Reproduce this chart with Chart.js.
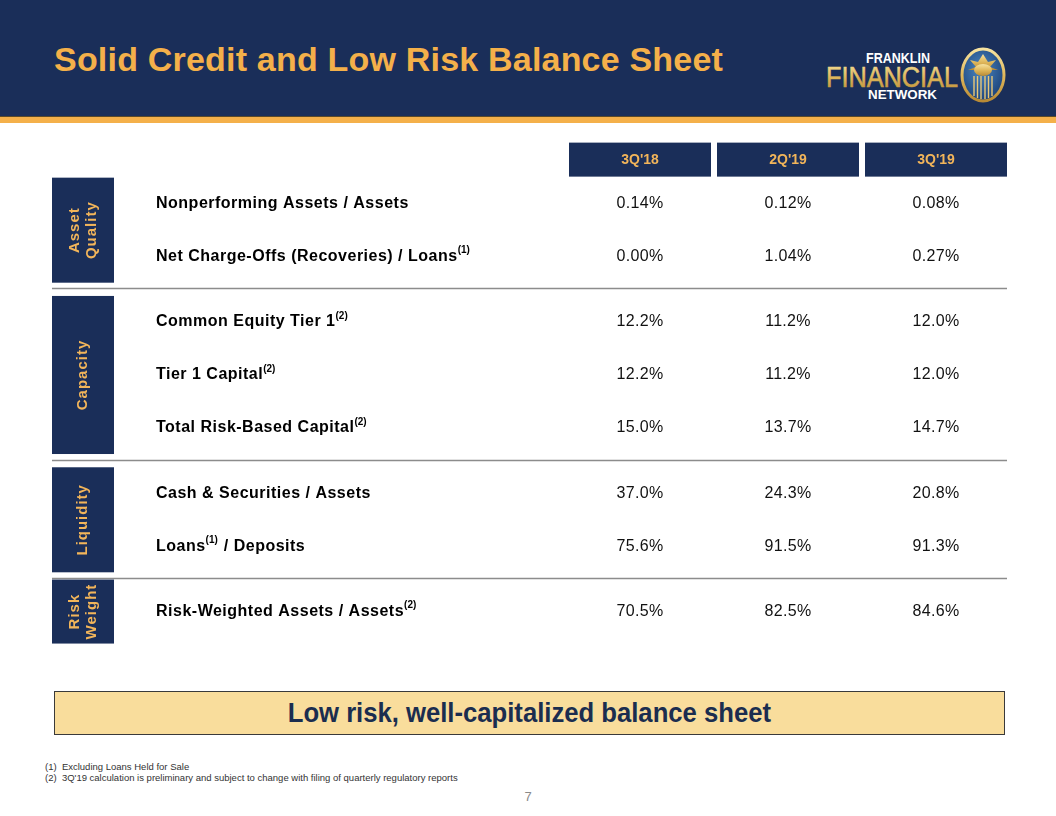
<!DOCTYPE html>
<html><head><meta charset="utf-8">
<script src="https://cdn.jsdelivr.net/npm/chart.js@4.4.1/dist/chart.umd.min.js"></script>
<style>
html,body{margin:0;padding:0;background:#fff;}
body{width:1056px;height:816px;position:relative;overflow:hidden;font-family:"Liberation Sans",Arial,sans-serif;}
#hdr{position:absolute;left:0;top:0;width:1056px;height:116px;background:#1a2e59;}
#stripe{position:absolute;left:0;top:116px;width:1056px;height:1px;background:#5a4a2a;}
#stripe2{position:absolute;left:0;top:117px;width:1056px;height:6px;background:#f4b04a;}
#title{position:absolute;left:54px;top:42px;font-size:34px;line-height:34px;font-weight:bold;letter-spacing:0.2px;color:#f4b04a;white-space:nowrap;}
#logo{position:absolute;left:820px;top:40px;}
#c{position:absolute;left:0;top:130px;}
#box{position:absolute;left:54px;top:691px;width:949px;height:42px;background:#f9dd9c;border:1px solid #3a3a3a;display:flex;align-items:center;justify-content:center;}
#box span{display:inline-block;font-size:27px;font-weight:bold;color:#1b2d4f;transform:scaleX(0.95);white-space:nowrap;}
#fn{position:absolute;left:45px;top:761px;font-size:9.5px;line-height:11px;color:#333;white-space:nowrap;}
#pg{position:absolute;left:521px;top:789px;width:14px;text-align:center;font-size:13px;color:#8a8a8a;}
</style></head>
<body>
<div id="hdr"></div><div id="stripe"></div><div id="stripe2"></div>
<div id="title">Solid Credit and Low Risk Balance Sheet</div>
<svg id="logo" width="200" height="70" viewBox="0 0 200 70">
  <defs>
    <linearGradient id="gold" x1="0" y1="0" x2="0" y2="1">
      <stop offset="0" stop-color="#f7e3a0"/><stop offset="0.5" stop-color="#e0b85c"/><stop offset="1" stop-color="#b88a35"/>
    </linearGradient>
    <radialGradient id="blue" cx="0.45" cy="0.4" r="0.7">
      <stop offset="0" stop-color="#4a86c2"/><stop offset="1" stop-color="#173a6e"/>
    </radialGradient>
  </defs>
  <text x="46" y="23" font-family="Liberation Sans, Arial" font-size="14" font-weight="bold" fill="#ffffff" textLength="64" lengthAdjust="spacingAndGlyphs">FRANKLIN</text>
  <text x="6" y="47" font-family="Liberation Sans, Arial" font-size="29" fill="url(#gold)" stroke="url(#gold)" stroke-width="0.6" textLength="132" lengthAdjust="spacingAndGlyphs">FINANCIAL</text>
  <text x="48" y="59" font-family="Liberation Sans, Arial" font-size="13" font-weight="bold" fill="#ffffff" textLength="69" lengthAdjust="spacingAndGlyphs">NETWORK</text>
  <ellipse cx="163" cy="35" rx="21" ry="26" fill="url(#blue)" stroke="url(#gold)" stroke-width="3"/>
  <path d="M163 14 L158 22 L150 20 L156 27 L148 30 L178 30 L170 27 L176 20 L168 22 Z" fill="url(#gold)"/>
  <ellipse cx="163" cy="30" rx="9" ry="6" fill="url(#gold)"/>
  <g stroke="#e8c878" stroke-width="1.4">
    <line x1="154" y1="36" x2="154" y2="56"/><line x1="157.5" y1="36" x2="157.5" y2="58"/>
    <line x1="161" y1="36" x2="161" y2="59"/><line x1="165" y1="36" x2="165" y2="59"/>
    <line x1="168.5" y1="36" x2="168.5" y2="58"/><line x1="172" y1="36" x2="172" y2="56"/>
  </g>
</svg>
<canvas id="c" width="1056" height="540"></canvas>
<div id="box"><span>Low risk, well-capitalized balance sheet</span></div>
<div id="fn">(1)&nbsp; Excluding Loans Held for Sale<br>(2)&nbsp; 3Q'19 calculation is preliminary and subject to change with filing of quarterly regulatory reports</div>
<div id="pg">7</div>
<script>
// ---- data ----
const periods = ["3Q'18", "2Q'19", "3Q'19"];
const groupLines = [["Asset", "Quality"], ["Capacity"], ["Liquidity"], ["Risk", "Weight"]];
const metrics = [
  "Nonperforming Assets / Assets",
  "Net Charge-Offs (Recoveries) / Loans{(1)}",
  "Common Equity Tier 1{(2)}",
  "Tier 1 Capital{(2)}",
  "Total Risk-Based Capital{(2)}",
  "Cash & Securities / Assets",
  "Loans{(1)} / Deposits",
  "Risk-Weighted Assets / Assets{(2)}"
];
const metricGroup = [0, 0, 1, 1, 1, 2, 2, 3];
const decimals = [2, 2, 1, 1, 1, 1, 1, 1];
const vals3Q18 = [0.14, 0.00, 12.2, 12.2, 15.0, 37.0, 75.6, 70.5];
const vals2Q19 = [0.12, 1.04, 11.2, 11.2, 13.7, 24.3, 91.5, 82.5];
const vals3Q19 = [0.08, 0.27, 12.0, 12.0, 14.7, 20.8, 91.3, 84.6];
const seriesVals = [vals3Q18, vals2Q19, vals3Q19];

// ---- layout helpers ----
const GROUP_GAP = 0.23;
const rowPos = i => i + metricGroup[i] * GROUP_GAP;
const NAVY = '#1a2e59', GOLD = '#f2b55a';
const FONT = '"Liberation Sans", Arial, sans-serif';

const tablePlugin = {
  id: 'table',
  afterDraw(chart) {
    const ctx = chart.ctx, xs = chart.scales.x, ys = chart.scales.y;
    ctx.save();
    // header boxes
    const colW = xs.getPixelForValue(1) - xs.getPixelForValue(0);
    const hy = ys.getPixelForValue(-0.83);
    periods.forEach((p, c) => {
      const cx = xs.getPixelForValue(c);
      ctx.fillStyle = NAVY;
      ctx.fillRect(cx - colW / 2 + 3, hy - 17, colW - 6, 34);
      ctx.fillStyle = GOLD;
      ctx.font = 'bold 14px ' + FONT;
      ctx.textAlign = 'center'; ctx.textBaseline = 'middle';
      ctx.fillText(p, cx, hy + 1);
    });
    // group boxes & separators
    const nG = groupLines.length;
    for (let g = 0; g < nG; g++) {
      const idx = metricGroup.map((v, i) => v === g ? i : -1).filter(i => i >= 0);
      const first = rowPos(idx[0]), last = rowPos(idx[idx.length - 1]);
      let top = ys.getPixelForValue(first - 0.49), bot = ys.getPixelForValue(last + 0.49);
      if (bot - top < 64) { const m = (top + bot) / 2; top = m - 32; bot = m + 32; }
      ctx.fillStyle = NAVY;
      ctx.fillRect(52, top, 62, bot - top);
      ctx.save();
      ctx.translate(83, (top + bot) / 2);
      ctx.rotate(-Math.PI / 2);
      ctx.fillStyle = GOLD;
      ctx.font = 'bold 15px ' + FONT;
      ctx.letterSpacing = '1px';
      ctx.textAlign = 'center'; ctx.textBaseline = 'middle';
      const lines = groupLines[g];
      lines.forEach((t, k) => ctx.fillText(t, 0, (k - (lines.length - 1) / 2) * 17));
      ctx.restore();
      if (g < nG - 1) {
        const nextFirst = rowPos(idx[idx.length - 1] + 1);
        const sy = Math.round((ys.getPixelForValue(last) + ys.getPixelForValue(nextFirst)) / 2) - 0.5;
        ctx.strokeStyle = '#8c8c8c'; ctx.lineWidth = 1.5;
        ctx.beginPath(); ctx.moveTo(52, sy); ctx.lineTo(xs.right - 3, sy); ctx.stroke();
      }
    }
    // row labels (with superscripts in {})
    metrics.forEach((m, i) => {
      const y = ys.getPixelForValue(rowPos(i));
      let x = 156;
      ctx.textAlign = 'left'; ctx.textBaseline = 'middle'; ctx.fillStyle = '#000';
      m.split(/(\{[^}]*\})/).filter(s => s.length).forEach(seg => {
        if (seg[0] === '{') {
          const t = seg.slice(1, -1);
          ctx.letterSpacing = '0px';
          ctx.font = 'bold 10px ' + FONT;
          ctx.fillText(t, x, y - 6);
          x += ctx.measureText(t).width + 1;
        } else {
          ctx.letterSpacing = '0.5px';
          ctx.font = 'bold 16px ' + FONT;
          ctx.fillText(seg, x, y);
          x += ctx.measureText(seg).width;
        }
      });
    });
    // values
    ctx.letterSpacing = '0.3px';
    ctx.font = '16px ' + FONT;
    ctx.textAlign = 'center'; ctx.textBaseline = 'middle'; ctx.fillStyle = '#111';
    chart.data.datasets.forEach((ds, d) => {
      chart.getDatasetMeta(d).data.forEach((el, i) => {
        ctx.fillText(ds.values[i].toFixed(decimals[i]) + '%', el.x, el.y);
      });
    });
    ctx.restore();
  }
};

new Chart(document.getElementById('c'), {
  type: 'scatter',
  data: {
    datasets: periods.map((p, c) => ({
      label: p,
      values: seriesVals[c],
      data: metrics.map((m, i) => ({ x: c, y: rowPos(i) })),
      pointRadius: 0, pointHoverRadius: 0, showLine: false
    }))
  },
  options: {
    responsive: false, devicePixelRatio: 1, animation: false,
    layout: { padding: { left: 566, right: 46, top: 10, bottom: 42 } },
    plugins: { legend: { display: false }, tooltip: { enabled: false } },
    events: [],
    scales: {
      x: { type: 'linear', min: -0.5, max: 2.5, display: false },
      y: { type: 'linear', reverse: true, min: -1.2, max: 8.0, display: false }
    }
  },
  plugins: [tablePlugin]
});
</script>
</body></html>
